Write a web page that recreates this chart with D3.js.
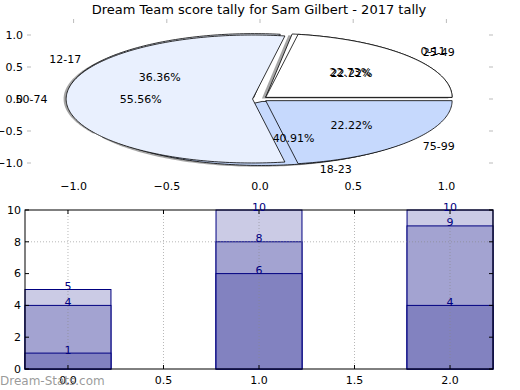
<!DOCTYPE html>
<html>
<head>
<meta charset="utf-8">
<script src="https://cdn.jsdelivr.net/npm/d3@7"></script>
<style>
  body { margin: 0; background: #fff; }
  text { font-family: "DejaVu Sans", sans-serif; }
</style>
</head>
<body>
<div id="chart"></div>
<script>
// pie data (two pies drawn on the same axes)
var pie1Labels = ["0-11", "12-17", "18-23"];
var pie1Values = [5, 8, 9];
var pie2Labels = ["25-49", "50-74", "75-99"];
var pie2Values = [2, 5, 2];
var pieColors = ["#ffffff", "#e9f0fe", "#c6d9fd"];

// bar data (overlapping cumulative bars)
var barX = [0, 1, 2];
var lowVals = [1, 6, 4];
var midVals = [4, 8, 9];
var highVals = [5, 10, 10];

var pieTicks = [-1.0, -0.5, 0.0, 0.5, 1.0];
var barXTicks = [0.0, 0.5, 1.0, 1.5, 2.0];
var barYTicks = [0, 2, 4, 6, 8, 10];

var width = 520, height = 390;
var svg = d3.select("#chart").append("svg")
    .attr("width", width)
    .attr("height", height);

var fmt1 = d => d3.format(".1f")(d).replace("-", "\u2212");

// title
svg.append("text")
    .attr("x", 259).attr("y", 14)
    .attr("text-anchor", "middle")
    .attr("font-size", 13)
    .text("Dream Team score tally for Sam Gilbert - 2017 tally");

// ---------- PIE AXES ----------
var xPie = d3.scaleLinear().domain([-1.25, 1.25]).range([27, 493]);
var yPie = d3.scaleLinear().domain([-1.25, 1.25]).range([179, 19]);

var pieG = svg.append("g");

// tick marks (no spines)
pieTicks.forEach(function(t) {
    pieG.append("line").attr("x1", 27).attr("x2", 31).attr("y1", yPie(t)).attr("y2", yPie(t))
        .attr("stroke", "#bbb");
    pieG.append("line").attr("x1", 489).attr("x2", 493).attr("y1", yPie(t)).attr("y2", yPie(t))
        .attr("stroke", "#bbb");
    pieG.append("line").attr("x1", xPie(t)).attr("x2", xPie(t)).attr("y1", 19).attr("y2", 23)
        .attr("stroke", "#bbb");
    pieG.append("text").attr("x", 23).attr("y", yPie(t)).attr("dy", "0.35em")
        .attr("text-anchor", "end").attr("font-size", 11).text(fmt1(t));
    pieG.append("text").attr("x", xPie(t)).attr("y", 190)
        .attr("text-anchor", "middle").attr("font-size", 11).text(fmt1(t));
});

function wedgePath(cx, cy, a0, a1, dx, dy) {
    var pts = [[cx, cy]];
    var n = Math.max(8, Math.ceil((a1 - a0) / 0.02));
    for (var i = 0; i <= n; i++) {
        var a = a0 + (a1 - a0) * i / n;
        pts.push([cx + Math.cos(a), cy + Math.sin(a)]);
    }
    return "M" + pts.map(p => [xPie(p[0] + dx), yPie(p[1] + dy)].join(",")).join("L") + "Z";
}

function drawPie(labels, values, explode, shadow) {
    var arcs = d3.pie().sort(null).startAngle(0).endAngle(2 * Math.PI)(values);
    var total = d3.sum(values);
    var parts = arcs.map(function(a, i) {
        var mid = (a.startAngle + a.endAngle) / 2;
        return {
            a: a, i: i, mid: mid,
            cx: explode * Math.cos(mid),
            cy: explode * Math.sin(mid)
        };
    });
    if (shadow) {
        parts.forEach(function(p) {
            pieG.append("path")
                .attr("d", wedgePath(p.cx, p.cy, p.a.startAngle, p.a.endAngle, -0.02, -0.02))
                .attr("fill", "#4d4d4d").attr("opacity", 0.5);
        });
    }
    parts.forEach(function(p) {
        pieG.append("path")
            .attr("d", wedgePath(p.cx, p.cy, p.a.startAngle, p.a.endAngle, 0, 0))
            .attr("fill", pieColors[p.i])
            .attr("stroke", "#000").attr("stroke-width", 0.8)
            .attr("stroke-linejoin", "miter");
    });
    return parts.map(function(p) {
        return {
            label: labels[p.i],
            lx: p.cx + 1.1 * Math.cos(p.mid),
            ly: p.cy + 1.1 * Math.sin(p.mid),
            px: p.cx + 0.6 * Math.cos(p.mid),
            py: p.cy + 0.6 * Math.sin(p.mid),
            pct: (100 * values[p.i] / total).toFixed(2) + "%"
        };
    });
}

var texts1 = drawPie(pie1Labels, pie1Values, 0.04, true);
var texts2 = drawPie(pie2Labels, pie2Values, 0.04, false);

texts1.concat(texts2).forEach(function(t) {
    pieG.append("text")
        .attr("x", xPie(t.lx)).attr("y", yPie(t.ly)).attr("dy", "0.35em")
        .attr("text-anchor", t.lx > 0 ? "start" : "end")
        .attr("font-size", 11).text(t.label);
    pieG.append("text")
        .attr("x", xPie(t.px)).attr("y", yPie(t.py)).attr("dy", "0.35em")
        .attr("text-anchor", "middle")
        .attr("font-size", 11).text(t.pct);
});

// ---------- BAR AXES ----------
var xBar = d3.scaleLinear().domain([-0.225, 2.225]).range([25, 493]);
var yBar = d3.scaleLinear().domain([0, 10]).range([369, 210]);
var barW = 0.45;

var barG = svg.append("g");

var layers = [
    { vals: highVals, color: "#cbcbe5" },
    { vals: midVals, color: "#a3a3d1" },
    { vals: lowVals, color: "#8282c0" }
];

layers.forEach(function(layer) {
    barG.append("g").selectAll("rect")
        .data(barX)
        .enter()
        .append("rect")
        .attr("x", (d) => xBar(d - barW / 2))
        .attr("width", (d) => xBar(d + barW / 2) - xBar(d - barW / 2))
        .attr("y", (d, i) => yBar(layer.vals[i]))
        .attr("height", (d, i) => yBar(0) - yBar(layer.vals[i]))
        .attr("fill", layer.color)
        .attr("stroke", "#000080")
        .attr("stroke-width", 1);
});

// grid (dotted)
barXTicks.forEach(function(t) {
    barG.append("line")
        .attr("x1", xBar(t)).attr("x2", xBar(t)).attr("y1", 210).attr("y2", 369)
        .attr("stroke", "#888").attr("stroke-opacity", 0.6)
        .attr("stroke-dasharray", "1,2");
});
barG.append("line")
    .attr("x1", 25).attr("x2", 493).attr("y1", yBar(8)).attr("y2", yBar(8))
    .attr("stroke", "#888").attr("stroke-opacity", 0.6)
    .attr("stroke-dasharray", "1,2");

// frame
barG.append("rect")
    .attr("x", 25).attr("y", 210).attr("width", 468).attr("height", 159)
    .attr("fill", "none").attr("stroke", "#000").attr("stroke-width", 1);

// ticks
barYTicks.forEach(function(t) {
    barG.append("line").attr("x1", 25).attr("x2", 29).attr("y1", yBar(t)).attr("y2", yBar(t))
        .attr("stroke", "#000");
    barG.append("line").attr("x1", 489).attr("x2", 493).attr("y1", yBar(t)).attr("y2", yBar(t))
        .attr("stroke", "#000");
    barG.append("text").attr("x", 21).attr("y", yBar(t)).attr("dy", "0.35em")
        .attr("text-anchor", "end").attr("font-size", 11).text(t);
});
barXTicks.forEach(function(t) {
    barG.append("line").attr("x1", xBar(t)).attr("x2", xBar(t)).attr("y1", 369).attr("y2", 365)
        .attr("stroke", "#000");
    barG.append("line").attr("x1", xBar(t)).attr("x2", xBar(t)).attr("y1", 210).attr("y2", 214)
        .attr("stroke", "#000");
    barG.append("text").attr("x", xBar(t)).attr("y", 384)
        .attr("text-anchor", "middle").attr("font-size", 11).text(fmt1(t));
});

// value labels
layers.forEach(function(layer) {
    barG.append("g").selectAll("text")
        .data(barX)
        .enter()
        .append("text")
        .attr("x", d => xBar(d))
        .attr("y", (d, i) => yBar(layer.vals[i]) + 0.5)
        .attr("text-anchor", "middle")
        .attr("font-size", 11)
        .attr("fill", "#000080")
        .text((d, i) => layer.vals[i]);
});

// watermark
svg.append("text")
    .attr("x", 0).attr("y", 385)
    .attr("font-size", 12)
    .attr("fill", "#888").attr("fill-opacity", 0.85)
    .text("Dream-Stats.com");
</script>
</body>
</html>
